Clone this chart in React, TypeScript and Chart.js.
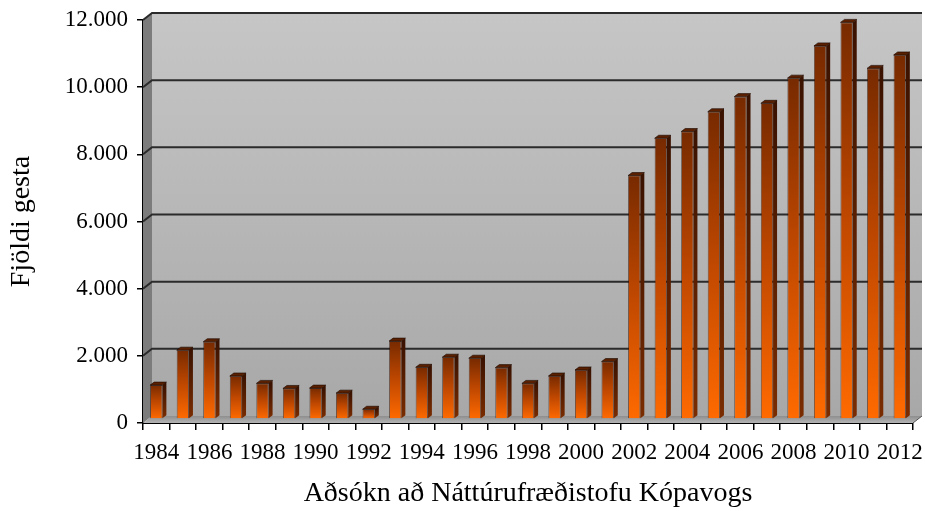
import React, { useEffect, useRef } from "react";
import { Chart, registerables } from "chart.js";

Chart.register(...registerables);

const years: string[] = [
  "1984", "1985", "1986", "1987", "1988", "1989", "1990", "1991", "1992", "1993",
  "1994", "1995", "1996", "1997", "1998", "1999", "2000", "2001", "2002", "2003",
  "2004", "2005", "2006", "2007", "2008", "2009", "2010", "2011", "2012",
];

const visitors: number[] = [
  1010, 2050, 2300, 1280, 1060, 910, 920, 770, 290, 2320,
  1540, 1840, 1810, 1530, 1060, 1280, 1460, 1710, 7250, 8360,
  8560, 9150, 9600, 9400, 10150, 11110, 11810, 10440, 10840,
];

const yTicks: number[] = [0, 2000, 4000, 6000, 8000, 10000, 12000];

const yTitle = "Fjöldi gesta";
const xTitle = "Aðsókn að Náttúrufræðistofu Kópavogs";

const FONT = "'Liberation Serif', 'DejaVu Serif', serif";
const DX = 9;
const DY = 7;
const BAR_SHIFT = 4;
const SIDE_X = 4;
const SIDE_Y = 3;

const fmt = (v: number) => String(v).replace(/\B(?=(\d{3})+(?!\d))/g, ".");

const wallPlugin = {
  id: "wall3d",
  beforeDatasetsDraw(chart: any) {
    const { ctx, chartArea: a, scales } = chart;
    const y = scales.y;
    ctx.save();
    const g = ctx.createLinearGradient(0, a.top - DY, 0, a.bottom - DY);
    g.addColorStop(0, "#c6c6c6");
    g.addColorStop(1, "#a8a8a8");
    ctx.fillStyle = g;
    ctx.fillRect(a.left + DX, a.top - DY, a.right - a.left, a.bottom - a.top);
    ctx.beginPath();
    ctx.moveTo(a.left, a.top);
    ctx.lineTo(a.left + DX, a.top - DY);
    ctx.lineTo(a.left + DX, a.bottom - DY);
    ctx.lineTo(a.left, a.bottom);
    ctx.closePath();
    ctx.fillStyle = "#7c7c7c";
    ctx.fill();
    ctx.beginPath();
    ctx.moveTo(a.left, a.bottom);
    ctx.lineTo(a.left + DX, a.bottom - DY);
    ctx.lineTo(a.right + DX, a.bottom - DY);
    ctx.lineTo(a.right, a.bottom);
    ctx.closePath();
    const fg = ctx.createLinearGradient(0, a.bottom - DY, 0, a.bottom);
    fg.addColorStop(0, "#8e8e8e");
    fg.addColorStop(1, "#b4b4b4");
    ctx.fillStyle = fg;
    ctx.fill();
    ctx.strokeStyle = "#2b2b2b";
    ctx.lineWidth = 2;
    for (const v of yTicks) {
      if (v === 0) continue;
      const py = y.getPixelForValue(v);
      ctx.beginPath();
      ctx.moveTo(a.left, py);
      ctx.lineTo(a.left + DX, py - DY);
      ctx.lineTo(a.right + DX, py - DY);
      ctx.stroke();
    }
    ctx.beginPath();
    ctx.moveTo(a.right, a.bottom);
    ctx.lineTo(a.right + DX, a.bottom - DY);
    ctx.strokeStyle = "#555";
    ctx.lineWidth = 1;
    ctx.stroke();
    ctx.restore();
    ctx.save();
    ctx.translate(0, -BAR_SHIFT);
  },
  afterDatasetsDraw(chart: any) {
    const { ctx } = chart;
    const meta = chart.getDatasetMeta(0);
    for (const el of meta.data) {
      const { x, y, width, base } = el as any;
      if (![x, y, width, base].every(Number.isFinite)) continue;
      const l = x - width / 2;
      const r = x + width / 2;
      ctx.beginPath();
      ctx.moveTo(r, y);
      ctx.lineTo(r + SIDE_X, y - SIDE_Y);
      ctx.lineTo(r + SIDE_X, base - SIDE_Y);
      ctx.lineTo(r, base);
      ctx.closePath();
      const sg = ctx.createLinearGradient(0, y, 0, base);
      sg.addColorStop(0, "#3a1200");
      sg.addColorStop(1, "#7a2c00");
      ctx.fillStyle = sg;
      ctx.fill();
      ctx.beginPath();
      ctx.moveTo(l, y);
      ctx.lineTo(l + SIDE_X, y - SIDE_Y);
      ctx.lineTo(r + SIDE_X, y - SIDE_Y);
      ctx.lineTo(r, y);
      ctx.closePath();
      ctx.fillStyle = "#5a2000";
      ctx.fill();
      ctx.strokeStyle = "rgba(30,10,0,0.8)";
      ctx.lineWidth = 0.8;
      ctx.stroke();
    }
    ctx.restore();
  },
};

export default function App() {
  const ref = useRef<HTMLCanvasElement | null>(null);

  useEffect(() => {
    document.body.style.margin = "0";
    const canvas = ref.current;
    if (!canvas) return;
    const chart = new Chart(canvas, {
      type: "bar",
      data: {
        labels: years,
        datasets: [
          {
            data: visitors,
            backgroundColor: (c: any) => {
              const ch = c.chart;
              const ys = ch.scales && ch.scales.y;
              if (!ys || c.raw == null) return "#ff6600";
              const top = ys.getPixelForValue(c.raw);
              const base = ys.getPixelForValue(0);
              if (!Number.isFinite(top) || !Number.isFinite(base) || top === base) return "#ff6600";
              const g = ch.ctx.createLinearGradient(0, top, 0, base);
              g.addColorStop(0, "#772a00");
              g.addColorStop(0.5, "#c04800");
              g.addColorStop(1, "#ff6a00");
              return g;
            },
            borderColor: "rgba(40,12,0,0.7)",
            borderWidth: 0.8,
            barPercentage: 0.46,
            categoryPercentage: 1,
          },
        ],
      },
      options: {
        responsive: false,
        animation: false,
        layout: { padding: { top: 20, right: 12, left: 0, bottom: 0 } },
        plugins: {
          legend: { display: false },
          tooltip: { enabled: false },
        },
        scales: {
          x: {
            offset: true,
            grid: {
              display: true,
              offset: true,
              drawOnChartArea: false,
              drawTicks: true,
              tickLength: 7,
              color: "#000",
              lineWidth: 1.5,
            },
            border: { display: true, color: "#000", width: 2 },
            ticks: {
              autoSkip: false,
              maxRotation: 0,
              minRotation: 0,
              color: "#000",
              padding: 9,
              font: { family: FONT, size: 23 },
              callback: (_v: any, i: number) =>
                parseInt(years[i], 10) % 2 === 0 ? years[i] : "",
            },
            title: {
              display: true,
              text: xTitle,
              color: "#000",
              font: { family: FONT, size: 28 },
              padding: { top: 0, bottom: 1 },
            },
            afterFit: (s: any) => {
              s.height = 88;
              s.paddingLeft = 0;
              s.paddingRight = 0;
            },
          },
          y: {
            min: 0,
            max: 12000,
            afterBuildTicks: (s: any) => {
              s.ticks = yTicks.map((v) => ({ value: v }));
            },
            grid: {
              display: true,
              drawOnChartArea: false,
              drawTicks: true,
              tickLength: 6,
              color: "#000",
              lineWidth: 1.5,
            },
            border: { display: true, color: "#000", width: 2 },
            ticks: {
              color: "#000",
              padding: 9,
              font: { family: FONT, size: 23 },
              callback: (v: any) => fmt(Number(v)),
            },
            title: {
              display: true,
              text: yTitle,
              color: "#000",
              font: { family: FONT, size: 28 },
              padding: { top: 5, bottom: 0 },
            },
            afterFit: (s: any) => {
              s.width = 143;
              s.paddingTop = 0;
              s.paddingBottom = 0;
            },
          },
        },
      },
      plugins: [wallPlugin],
    });
    return () => chart.destroy();
  }, []);

  return <canvas ref={ref} width={925} height={511} style={{ display: "block", width: 925, height: 511 }} />;
}
